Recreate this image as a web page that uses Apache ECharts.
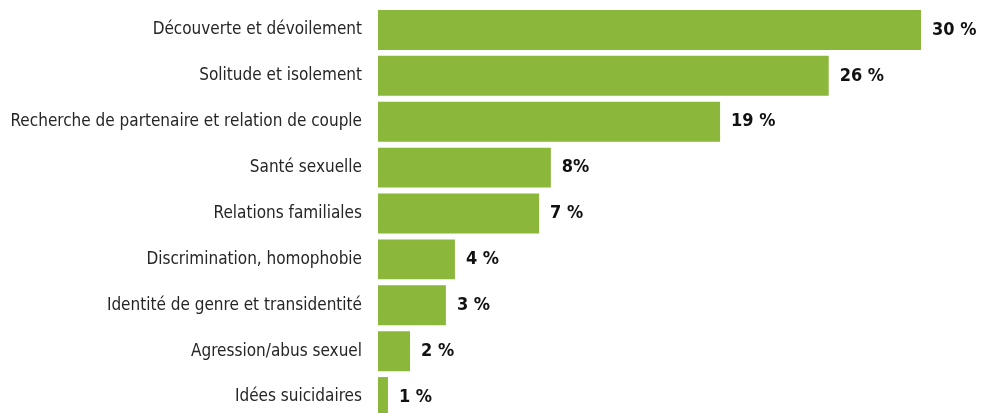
<!DOCTYPE html>
<html>
<head>
<meta charset="utf-8">
<script src="https://cdn.jsdelivr.net/npm/echarts@6/dist/echarts.min.js"></script>
<style>
  html, body { margin: 0; padding: 0; background: #fff; }
  #chart { width: 982px; height: 413px; }
</style>
</head>
<body>
<div id="chart"></div>
<script>
// thèmes, du plus fréquent au moins fréquent (affichés de haut en bas)
const categories = [
  'Découverte et dévoilement',
  'Solitude et isolement',
  'Recherche de partenaire et relation de couple',
  'Santé sexuelle',
  'Relations familiales',
  'Discrimination, homophobie',
  'Identité de genre et transidentité',
  'Agression/abus sexuel',
  'Idées suicidaires'
]
// longueurs des barres
const values = [30, 24.9, 18.9, 9.55, 8.9, 4.25, 3.75, 1.77, 0.55]
// étiquettes telles qu'imprimées
const valueLabels = ['30 %', '26 %', '19 %', '8%', '7 %', '4 %', '3 %', '2 %', '1 %']

const chart = echarts.init(document.getElementById('chart'), null, { renderer: 'canvas' })
chart.setOption({
  animation: false,
  grid: {
    left: 378,
    top: 7,
    width: 597.3,
    height: 413,
    containLabel: false,
    outerBoundsMode: 'none'
  },
  xAxis: {
    type: 'value',
    min: 0,
    max: 33,
    show: false
  },
  yAxis: {
    type: 'category',
    inverse: true,
    data: categories,
    axisLine: { show: false },
    axisTick: { show: false },
    axisLabel: {
      margin: 16,
      padding: [5, 0, 0, 0],
      color: '#262626',
      fontSize: 17,
      fontFamily: '"DejaVu Sans Condensed", sans-serif'
    }
  },
  series: [
    {
      type: 'bar',
      data: values,
      barCategoryGap: '13%',
      itemStyle: { color: '#8bb73a' },
      label: {
        show: true,
        position: 'right',
        distance: 11,
        color: '#111',
        fontSize: 18,
        fontWeight: 'bold',
        fontFamily: '"DejaVu Sans Condensed", sans-serif',
        formatter: p => valueLabels[p.dataIndex]
      }
    }
  ]
})
</script>
</body>
</html>
